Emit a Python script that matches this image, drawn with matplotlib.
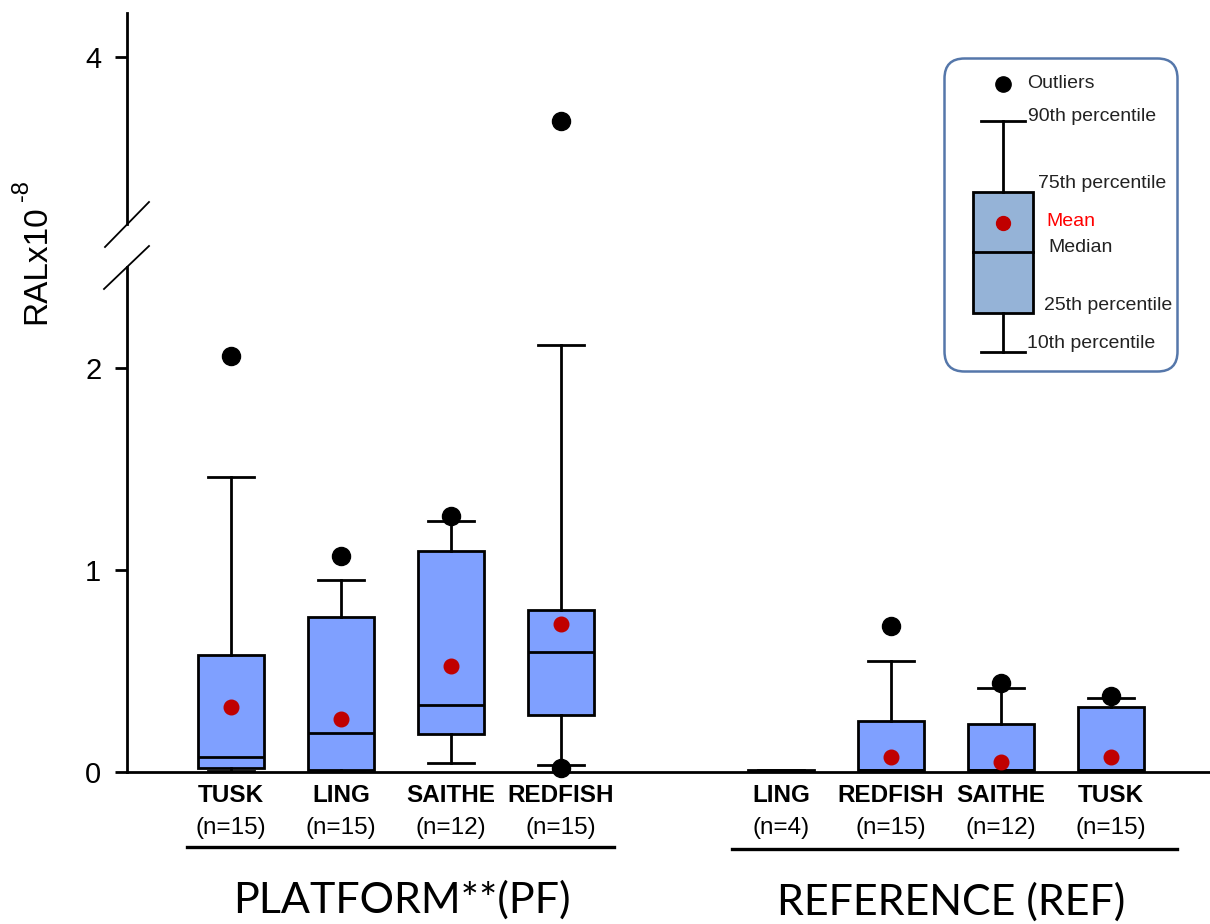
import matplotlib
matplotlib.use('Agg')
import matplotlib.pyplot as plt
import matplotlib.transforms as mtransforms
from matplotlib import font_manager
from matplotlib.patches import FancyBboxPatch, Rectangle
from matplotlib.lines import Line2D
import numpy as np

# platform fish, RAL x 10^-8
pf_species = ['TUSK', 'LING', 'SAITHE', 'REDFISH']
pf_n = [15, 15, 12, 15]
pf_whislo = [0.005, 0.003, 0.041, 0.033]
pf_q1 = [0.016, 0.008, 0.187, 0.282]
pf_med = [0.074, 0.19, 0.33, 0.593]
pf_q3 = [0.58, 0.764, 1.094, 0.80]
pf_whishi = [1.46, 0.95, 1.24, 2.11]
pf_mean = [0.32, 0.26, 0.525, 0.73]
pf_fliers = [[2.06], [1.07], [1.267], [3.68, 0.016]]

# reference fish
ref_species = ['LING', 'REDFISH', 'SAITHE', 'TUSK']
ref_n = [4, 15, 12, 15]
ref_whislo = [0.003, 0.005, 0.005, 0.005]
ref_q1 = [0.003, 0.008, 0.008, 0.008]
ref_med = [0.005, 0.008, 0.008, 0.008]
ref_q3 = [0.008, 0.249, 0.236, 0.318]
ref_whishi = [0.008, 0.548, 0.414, 0.363]
ref_mean = [np.nan, 0.071, 0.05, 0.071]
ref_fliers = [[], [0.72], [0.44], [0.373]]

pf_pos = [1, 2, 3, 4]
ref_pos = [6, 7, 8, 9]

names = {f.name for f in font_manager.fontManager.ttflist}
narrow = 'Liberation Sans Narrow' in names
key_font = 'Liberation Sans Narrow' if narrow else 'Liberation Sans'
key_size = 16.5 if narrow else 14

plt.rcParams['font.family'] = ['Liberation Sans', 'DejaVu Sans']


def make_stats(species, whislo, q1, med, q3, whishi, mean, fliers, lim):
    out = []
    for i in range(len(species)):
        out.append(dict(label=species[i], whislo=whislo[i], q1=q1[i], med=med[i],
                        q3=q3[i], whishi=whishi[i], mean=mean[i],
                        fliers=[v for v in fliers[i] if lim[0] <= v <= lim[1]]))
    return out


W, H = 1210, 924
fig = plt.figure(figsize=(W / 100, H / 100), dpi=100)

lo_lim = (0, (771.7 - 267) / 202)
hi_lim = (4 - (224 - 56.7) / 202, 4 + (56.7 - 13) / 202)
xlim = (0.0545, 9.9)

ax = fig.add_axes([127 / W, (H - 771.7) / H, 1 - 127 / W, (771.7 - 267) / H])
ax_top = fig.add_axes([127 / W, (H - 224) / H, 1 - 127 / W, (224 - 13) / H])

box_color = '#7fa0ff'
lw = 2.0


def draw(a, lim, clip):
    for stats, pos in [(make_stats(pf_species, pf_whislo, pf_q1, pf_med, pf_q3, pf_whishi,
                                   pf_mean, pf_fliers, lim), pf_pos),
                       (make_stats(ref_species, ref_whislo, ref_q1, ref_med, ref_q3, ref_whishi,
                                   ref_mean, ref_fliers, lim), ref_pos)]:
        res = a.bxp(stats, positions=pos, widths=0.6, capwidths=0.42,
                    patch_artist=True, showmeans=True,
                    boxprops=dict(facecolor=box_color, edgecolor='black', linewidth=lw),
                    whiskerprops=dict(color='black', linewidth=lw),
                    capprops=dict(color='black', linewidth=lw),
                    medianprops=dict(color='black', linewidth=lw),
                    meanprops=dict(marker='o', markerfacecolor='#c00000',
                                   markeredgecolor='#c00000', markersize=10.5),
                    flierprops=dict(marker='o', markerfacecolor='black',
                                    markeredgecolor='black', markersize=13))
        for key in res:
            for art in res[key]:
                art.set_clip_on(clip)
                if key == 'fliers':
                    art.set_zorder(5)
                if key == 'means':
                    art.set_zorder(4)


draw(ax, (-1, lo_lim[1]), False)
draw(ax_top, hi_lim, True)

for a, lim in [(ax, lo_lim), (ax_top, hi_lim)]:
    a.set_xlim(*xlim)
    a.set_ylim(*lim)
    a.spines['top'].set_visible(False)
    a.spines['right'].set_visible(False)
    a.spines['left'].set_linewidth(2)
    a.spines['bottom'].set_linewidth(2)
    a.tick_params(axis='y', length=8.5, width=2, pad=10, labelsize=21, direction='out')
    a.set_xticks([])
    a.patch.set_alpha(0)

ax.set_yticks([0, 1, 2])
ax.set_yticklabels(['0', '1', '2'])
ax_top.spines['bottom'].set_visible(False)
ax_top.set_yticks([4])
ax_top.set_yticklabels(['4'])

# axis break marks
for (x0, y0, x1, y1) in [(105, 247, 149, 202), (104, 289, 149, 246)]:
    fig.add_artist(Line2D([x0 / W, x1 / W], [1 - y0 / H, 1 - y1 / H],
                          transform=fig.transFigure, color='black', linewidth=1.3))

# y label with its exponent
fig.text(37 / W, 1 - 265 / H, 'RALx10', rotation=90, ha='center', va='center', fontsize=24)
fig.text(22 / W, 1 - 191 / H, '-8', rotation=90, ha='center', va='center', fontsize=17)

# species labels under each box
for species, ns, pos in [(pf_species, pf_n, pf_pos), (ref_species, ref_n, ref_pos)]:
    for sp, n, p in zip(species, ns, pos):
        ax.annotate(sp, xy=(p, 0), xycoords=('data', 'axes fraction'),
                    xytext=(0, -17.3), textcoords='offset points',
                    ha='center', va='center', fontsize=17.5, fontweight='bold')
        ax.annotate('(n=%d)' % n, xy=(p, 0), xycoords=('data', 'axes fraction'),
                    xytext=(0, -40.3), textcoords='offset points',
                    ha='center', va='center', fontsize=17.5)

blend = mtransforms.blended_transform_factory(ax.transData, fig.transFigure)
ax.plot([0.6, 4.48], [1 - 847 / H] * 2, transform=blend, color='black',
        linewidth=2.4, clip_on=False)
ax.plot([5.555, 9.6], [1 - 849 / H] * 2, transform=blend, color='black',
        linewidth=2.4, clip_on=False)
ax.text(2.55, 1 - 900 / H, 'PLATFORM**(PF)', transform=blend, ha='center',
        va='center', fontsize=31, family=['Lato', 'DejaVu Sans'])
ax.text(7.55, 1 - 902 / H, 'REFERENCE (REF)', transform=blend, ha='center',
        va='center', fontsize=31, family=['Lato', 'DejaVu Sans'])

# key panel
kx0, ky0, kx1, ky1 = 943, 57, 1179, 373
key = fig.add_axes([kx0 / W, 1 - ky1 / H, (kx1 - kx0) / W, (ky1 - ky0) / H])
key.set_xlim(0, kx1 - kx0)
key.set_ylim(ky1 - ky0, 0)
key.axis('off')
key.add_patch(FancyBboxPatch((1.5, 1.5), kx1 - kx0 - 3, ky1 - ky0 - 3,
                             boxstyle='round,pad=0,rounding_size=20',
                             facecolor='white', edgecolor='#5577aa', linewidth=1.8))
cx = 60
key.plot([cx], [27], 'o', color='black', markersize=11)
key.plot([cx - 22, cx + 22], [64, 64], color='black', linewidth=lw)
key.plot([cx, cx], [64, 135], color='black', linewidth=lw)
key.add_patch(Rectangle((cx - 30, 135), 60, 121, facecolor='#95b3d7',
                        edgecolor='black', linewidth=lw))
key.plot([cx - 30, cx + 30], [195, 195], color='black', linewidth=lw)
key.plot([cx], [166], 'o', color='#c00000', markersize=10)
key.plot([cx, cx], [256, 295], color='black', linewidth=lw)
key.plot([cx - 22, cx + 22], [295, 295], color='black', linewidth=lw)

key_labels = ['Outliers', '90th percentile', '75th percentile', 'Mean', 'Median',
              '25th percentile', '10th percentile']
key_x = [84, 85, 95, 103, 105, 101, 84]
key_y = [27, 60, 126, 165, 191, 248, 286]
key_c = ['#222222', '#222222', '#222222', 'red', '#222222', '#222222', '#222222']
for t, x, y, c in zip(key_labels, key_x, key_y, key_c):
    key.text(x, y, t, ha='left', va='center', color=c, fontsize=key_size,
             family=[key_font, 'DejaVu Sans'])

fig.savefig('out.png', dpi=100)
